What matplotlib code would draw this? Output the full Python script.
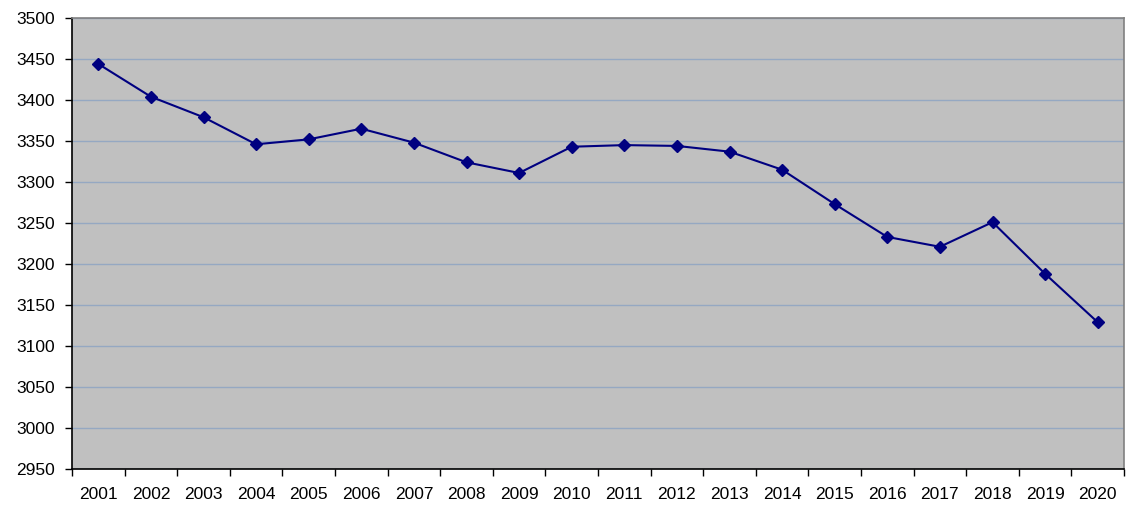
import matplotlib
matplotlib.use("Agg")
import matplotlib.pyplot as plt
import numpy as np

years = [str(y) for y in range(2001, 2021)]
values = [3444, 3404, 3379, 3346, 3352, 3365, 3348, 3324, 3311, 3343,
          3345, 3344, 3337, 3315, 3273, 3233, 3221, 3251, 3188, 3129]
y_ticks = list(range(2950, 3501, 50))

plt.rcParams['font.family'] = ['Liberation Sans', 'DejaVu Sans']

fig = plt.figure(figsize=(11.36, 5.12), dpi=100)
fig.patch.set_facecolor('white')
ax = fig.add_axes([72/1136, 43/512, (1124-72)/1136, (469-18)/512])
ax.set_facecolor('#C0C0C0')

x = np.arange(len(years))
ax.plot(x, values, color='#000080', linewidth=1.5, marker='D', markersize=6,
        markerfacecolor='#000080', markeredgecolor='#000080', zorder=3)

ax.set_xlim(-0.5, len(years) - 0.5)
ax.set_ylim(2950, 3500)
ax.set_yticks(y_ticks)
ax.set_yticklabels([str(v) for v in y_ticks], fontsize=12.5)
ax.yaxis.grid(True, color='#95A8C2', linewidth=1)
ax.set_axisbelow(True)

ax.set_xticks(x)
ax.set_xticklabels(years, fontsize=12.5)
ax.set_xticks(np.arange(-0.5, len(years), 1.0), minor=True)
ax.tick_params(axis='x', which='major', length=0, pad=13)
ax.tick_params(axis='x', which='minor', length=5, width=1, color='black')
ax.tick_params(axis='y', length=5, width=1, color='black', pad=7)

for s in ['left', 'bottom']:
    ax.spines[s].set_color('black')
    ax.spines[s].set_linewidth(1.2)
for s in ['top', 'right']:
    ax.spines[s].set_color('#808080')
    ax.spines[s].set_linewidth(1.2)

fig.savefig('out.png', dpi=100, facecolor='white')
